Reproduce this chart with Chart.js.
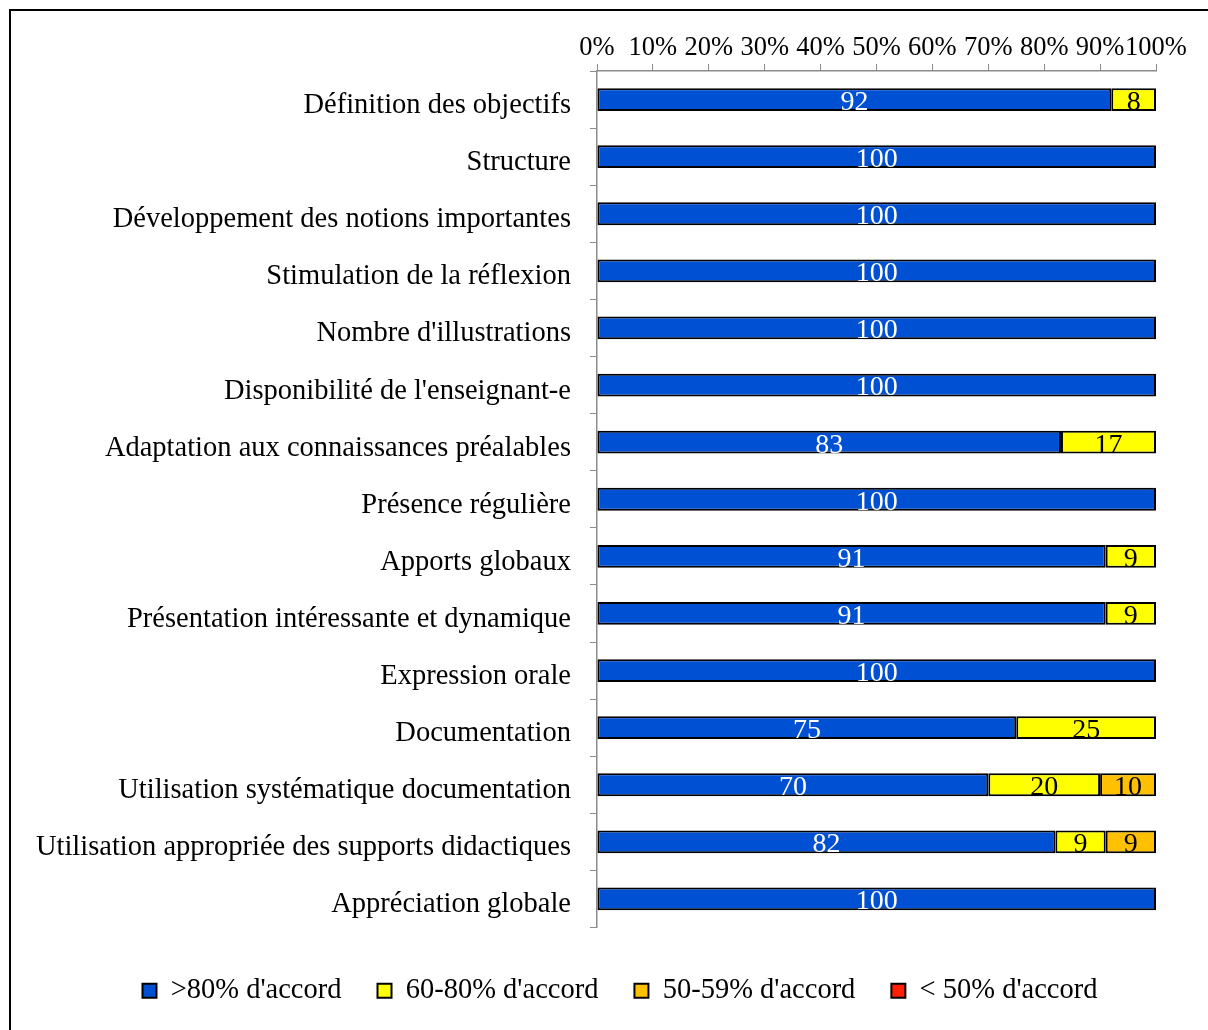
<!DOCTYPE html>
<html>
<head>
<meta charset="utf-8">
<script src="https://cdn.jsdelivr.net/npm/chart.js@4"></script>
<style>
    html, body { margin: 0; padding: 0; overflow: hidden; background: #fff; }
    #cadre { position: absolute; left: 9px; top: 9px; width: 1400px; height: 1200px; border: 2px solid #000; }
    #zone { position: absolute; left: 0; top: 0; width: 1208px; height: 1030px; }
</style>
</head>
<body>
<div id="cadre"></div>
<div id="zone"><canvas id="evaluation"></canvas></div>
<script>
// catégories évaluées (de haut en bas)
const categories = [
    "Définition des objectifs",
    "Structure",
    "Développement des notions importantes",
    "Stimulation de la réflexion",
    "Nombre d'illustrations",
    "Disponibilité de l'enseignant-e",
    "Adaptation aux connaissances préalables",
    "Présence régulière",
    "Apports globaux",
    "Présentation intéressante et dynamique",
    "Expression orale",
    "Documentation",
    "Utilisation systématique documentation",
    "Utilisation appropriée des supports didactiques",
    "Appréciation globale"
];

const libellesSeries = [">80% d'accord", "60-80% d'accord", "50-59% d'accord", "< 50% d'accord"];
const plus80 = [92, 100, 100, 100, 100, 100, 83, 100, 91, 91, 100, 75, 70, 82, 100];
const de60a80 = [8, null, null, null, null, null, 17, null, 9, 9, null, 25, 20, 9, null];
const de50a59 = [null, null, null, null, null, null, null, null, null, null, null, null, 10, 9, null];
const moins50 = [null, null, null, null, null, null, null, null, null, null, null, null, null, null, null];
const couleurs = ["#0050d4", "#ffff00", "#ffc000", "#ff2000"];
const ticksX = [0, 10, 20, 30, 40, 50, 60, 70, 80, 90, 100];

const police = '"Liberation Serif", serif';

//écrit la valeur au milieu de chaque segment
const etiquettes = {
    id: 'etiquettes',
    afterDatasetsDraw(chart) {
        const ctx = chart.ctx;
        ctx.save();
        ctx.font = '28px ' + police;
        ctx.textAlign = 'center';
        ctx.textBaseline = 'middle';
        chart.data.datasets.forEach((ds, i) => {
            const meta = chart.getDatasetMeta(i);
            meta.data.forEach((barre, j) => {
                const v = ds.data[j];
                if (!v) return;
                const p = barre.getProps(['x', 'y', 'base'], true);
                ctx.fillStyle = i === 0 ? '#fff' : '#000';
                ctx.fillText(v, (p.x + p.base) / 2, p.y + 3);
            });
        });
        ctx.restore();
    }
};

//la légende est un peu décalée vers la droite dans l'original
const decalageLegende = {
    id: 'decalageLegende',
    afterLayout(chart) {
        if (chart.legend) {
            chart.legend.left += 42;
            chart.legend.right += 42;
        }
    }
};

const series = [plus80, de60a80, de50a59, moins50];

new Chart(document.getElementById('evaluation'), {
    type: 'bar',
    data: {
        labels: categories,
        datasets: series.map((d, i) => ({
            label: libellesSeries[i],
            data: d,
            backgroundColor: couleurs[i],
            borderColor: '#000',
            borderWidth: 2,
            borderSkipped: false,
            barPercentage: 0.4,
            categoryPercentage: 1
        }))
    },
    plugins: [etiquettes, decalageLegende],
    options: {
        indexAxis: 'y',
        responsive: true,
        maintainAspectRatio: false,
        animation: false,
        layout: {
            padding: { top: 0, right: 52, bottom: 15, left: 0 }
        },
        scales: {
            x: {
                position: 'top',
                stacked: true,
                min: 0,
                max: 100,
                afterBuildTicks: (axe) => { axe.ticks = ticksX.map(v => ({ value: v })); },
                afterFit: (axe) => { axe.height = 71; },
                ticks: {
                    color: '#000',
                    font: { family: police, size: 26.5 },
                    padding: 0,
                    autoSkip: false,
                    maxRotation: 0,
                    callback: (v) => v + '%'
                },
                grid: { drawOnChartArea: false, color: '#8c8c8c', tickLength: 7 },
                border: { color: '#8c8c8c', width: 1.5 }
            },
            y: {
                stacked: true,
                afterFit: (axe) => { axe.width = 597; },
                ticks: {
                    color: '#000',
                    font: { family: police, size: 28.5 },
                    padding: 19,
                    labelOffset: 6
                },
                grid: { drawOnChartArea: false, color: '#8c8c8c', tickLength: 7, offset: true },
                border: { color: '#8c8c8c', width: 1.5 }
            }
        },
        plugins: {
            legend: {
                position: 'bottom',
                title: { display: true, text: '', font: { size: 10 }, padding: 0.5 },
                labels: {
                    color: '#000',
                    font: { family: police, size: 28.5 },
                    boxWidth: 14,
                    boxHeight: 14,
                    padding: 36
                }
            },
            tooltip: { enabled: false }
        }
    }
});
</script>
</body>
</html>
